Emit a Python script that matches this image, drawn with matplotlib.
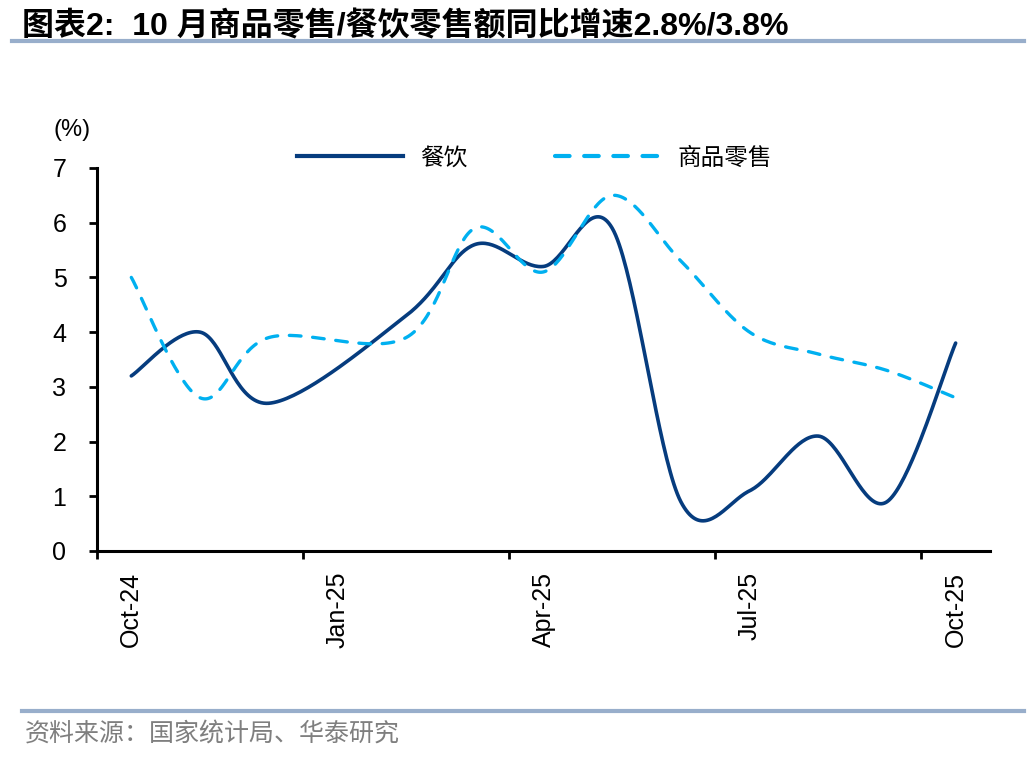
import numpy as np
import matplotlib
matplotlib.use('Agg')
import matplotlib.pyplot as plt
from matplotlib.lines import Line2D

plt.rcParams['font.family'] = ['Liberation Sans', 'Noto Sans CJK SC', 'DejaVu Sans']

months = ['Oct-24', 'Nov-24', 'Dec-24', 'Jan-25', 'Feb-25', 'Mar-25', 'Apr-25',
          'May-25', 'Jun-25', 'Jul-25', 'Aug-25', 'Sep-25', 'Oct-25']
# 1-2月合并公布, 1月为空
catering = [3.2, 4.0, 2.7, np.nan, 4.3, 5.6, 5.2, 5.9, 0.9, 1.1, 2.1, 0.9, 3.8]
goods = [5.0, 2.8, 3.9, np.nan, 3.9, 5.9, 5.1, 6.5, 5.3, 4.0, 3.6, 3.3, 2.8]
tick_labels = ['Oct-24', 'Jan-25', 'Apr-25', 'Jul-25', 'Oct-25']


def smooth(xs, ys, n=40):
    # 类似Excel平滑线: 三次贝塞尔, 控制点取相邻点差的1/6
    x = np.array([a for a, b in zip(xs, ys) if not np.isnan(b)], float)
    y = np.array([b for b in ys if not np.isnan(b)], float)
    P = np.column_stack([x, y])
    out = [P[0]]
    for i in range(len(P) - 1):
        p0 = P[i - 1] if i > 0 else P[i]
        p3 = P[i + 2] if i + 2 < len(P) else P[i + 1]
        c1 = P[i] + (P[i + 1] - p0) / 6
        c2 = P[i + 1] - (p3 - P[i]) / 6
        t = np.linspace(0, 1, n)[1:, None]
        seg = ((1 - t) ** 3 * P[i] + 3 * (1 - t) ** 2 * t * c1
               + 3 * (1 - t) * t ** 2 * c2 + t ** 3 * P[i + 1])
        out.extend(seg)
    out = np.array(out)
    return out[:, 0], out[:, 1]


navy = '#063C7E'
cyan = '#00B0F0'

fig = plt.figure(figsize=(10.36, 7.6), dpi=100)
ax = fig.add_axes([0.0936, 0.275, 0.862, 0.504])

xi = np.arange(len(months))
sx, sy = smooth(xi, catering)
ax.plot(sx, sy, color=navy, lw=2.6, solid_capstyle='round', label='餐饮')
gx, gy = smooth(xi, goods)
ax.plot(gx, gy, color=cyan, lw=2.4, dashes=(3.5, 3.5), dash_capstyle='round', label='商品零售')

ax.set_xlim(-0.5, 12.5)
ax.set_ylim(0, 7)
ax.set_yticks(range(0, 8))
ax.tick_params(axis='y', direction='out', length=6, width=2, labelsize=18, pad=16)

ax.set_xticks([0, 3, 6, 9, 12])
ax.set_xticklabels(tick_labels, rotation=90, fontsize=18)
ax.set_xticks([-0.5, 2.5, 5.5, 8.5, 11.5], minor=True)
ax.tick_params(axis='x', which='major', length=0, pad=15)
ax.tick_params(axis='x', which='minor', direction='out', length=6, width=2)

for s in ['top', 'right']:
    ax.spines[s].set_visible(False)
for s in ['left', 'bottom']:
    ax.spines[s].set_linewidth(2.2)

h = [Line2D([], [], color=navy, lw=3),
     Line2D([], [], color=cyan, lw=3, dashes=(3.5, 3.5), dash_capstyle='round')]
leg = ax.legend(h, ['餐饮', '商品零售'], ncol=2, loc='center', bbox_to_anchor=(0.49, 1.026),
                frameon=False, handlelength=4.5, columnspacing=3.7, handletextpad=0.7,
                prop={'family': ['Noto Sans CJK SC'], 'size': 17})

fig.text(0.0695, 0.829, '(%)', fontsize=17, ha='center', va='center')

fig.text(0.021, 0.964, '图表2:  10 月商品零售/餐饮零售额同比增速2.8%/3.8%',
         fontsize=23, fontweight='bold', ha='left', va='center',
         family=['Liberation Sans', 'Noto Sans CJK SC'])
fig.add_artist(Line2D([0.012, 0.988], [0.946, 0.946], color='#98AECB', lw=3))
fig.add_artist(Line2D([0.021, 0.988], [0.064, 0.064], color='#98AECB', lw=3))
fig.text(0.024, 0.033, '资料来源：国家统计局、华泰研究', fontsize=18, color='#7F7F7F',
         ha='left', va='center', family=['Noto Sans CJK SC'])

fig.savefig('out.png', dpi=100)
